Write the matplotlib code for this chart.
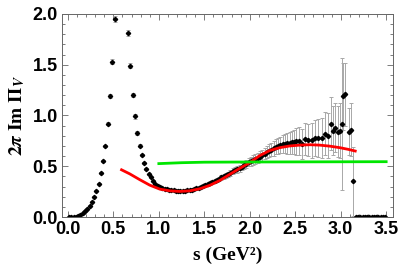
import numpy as np
import matplotlib
matplotlib.use("Agg")
import matplotlib.pyplot as plt

plt.rcParams['mathtext.fontset'] = 'stix'

# data points (s in GeV^2, 2*pi*Im Pi_V)
s_data = [
    0.0125, 0.0375, 0.0625, 0.0875, 0.1125, 0.1375, 0.1625, 0.1875, 0.2125, 0.2375,
    0.2625, 0.2875, 0.3125, 0.3375, 0.3625, 0.3875, 0.4125, 0.4375, 0.4625, 0.4875,
    0.5125, 0.6625, 0.6875, 0.7125, 0.7375, 0.7625, 0.7875, 0.8125, 0.8375, 0.8625,
    0.8875, 0.9125, 0.9375, 0.9625, 0.9875, 1.0125, 1.0375, 1.0625, 1.0875, 1.1125,
    1.1375, 1.1625, 1.1875, 1.2125, 1.2375, 1.2625, 1.2875, 1.3125, 1.3375, 1.3625,
    1.3875, 1.4125, 1.4375, 1.4625, 1.4875, 1.5125, 1.5375, 1.5625, 1.5875, 1.6125,
    1.6375, 1.6625, 1.6875, 1.7125, 1.7375, 1.7625, 1.7875, 1.8125, 1.8375, 1.8625,
    1.8875, 1.9125, 1.9375, 1.9625, 1.9875, 2.0125, 2.0375, 2.0625, 2.0875, 2.1125,
    2.1375, 2.1625, 2.1875, 2.2125, 2.2375, 2.2625, 2.2875, 2.3125, 2.3375, 2.3625,
    2.3875, 2.4125, 2.4375, 2.4625, 2.4875, 2.5125, 2.5375,
    2.57, 2.61, 2.64, 2.68, 2.72, 2.75, 2.79, 2.83, 2.86, 2.89,
    2.92, 2.94, 2.97, 2.99, 3.01, 3.03, 3.05, 3.09, 3.11, 3.14,
    3.165, 3.19, 3.215, 3.24, 3.265, 3.29, 3.315, 3.34, 3.365, 3.39,
    3.415, 3.44, 3.465, 3.49,
]
im_data = [
    0.0, 0.0, 0.0, 0.002, 0.008, 0.02, 0.035, 0.055, 0.08, 0.11,
    0.15, 0.2, 0.26, 0.33, 0.43, 0.55, 0.70, 0.92, 1.19, 1.53,
    1.95, 1.81, 1.49, 1.20, 0.99, 0.83, 0.70, 0.61, 0.53, 0.47,
    0.42, 0.39, 0.355, 0.33, 0.31, 0.295, 0.285, 0.278, 0.272, 0.268,
    0.265, 0.262, 0.26, 0.258, 0.258, 0.258, 0.26, 0.262, 0.266, 0.27,
    0.276, 0.283, 0.29, 0.298, 0.307, 0.316, 0.325, 0.335, 0.345, 0.355,
    0.366, 0.377, 0.39, 0.40, 0.41, 0.42, 0.435, 0.45, 0.46, 0.47,
    0.48, 0.495, 0.51, 0.525, 0.54, 0.55, 0.56, 0.57, 0.585, 0.595,
    0.61, 0.625, 0.64, 0.655, 0.665, 0.675, 0.69, 0.70, 0.71, 0.715,
    0.72, 0.725, 0.73, 0.735, 0.74, 0.745, 0.75,
    0.72, 0.77, 0.76, 0.755, 0.78, 0.78, 0.78, 0.82, 0.80, 0.92,
    0.85, 0.88, 0.84, 0.85, 0.92, 1.19, 1.21, 0.84, 0.86, 0.35,
    0.0, 0.0, 0.0, 0.0, 0.0, 0.0, 0.0, 0.0, 0.0, 0.0,
    0.0, 0.0, 0.0, 0.0,
]
err_data = [
    0.002, 0.002, 0.002, 0.002, 0.003, 0.003, 0.003, 0.004, 0.004, 0.005,
    0.005, 0.006, 0.007, 0.008, 0.01, 0.012, 0.014, 0.018, 0.022, 0.025,
    0.03, 0.03, 0.025, 0.022, 0.02, 0.018, 0.015, 0.012, 0.01, 0.01,
    0.008, 0.008, 0.008, 0.008, 0.008, 0.008, 0.008, 0.008, 0.008, 0.008,
    0.008, 0.008, 0.009, 0.009, 0.009, 0.01, 0.01, 0.01, 0.011, 0.011,
    0.012, 0.012, 0.013, 0.014, 0.015, 0.016, 0.017, 0.018, 0.019, 0.02,
    0.021, 0.022, 0.023, 0.024, 0.025, 0.026, 0.027, 0.028, 0.03, 0.032,
    0.034, 0.036, 0.038, 0.04, 0.042, 0.044, 0.046, 0.048, 0.05, 0.052,
    0.055, 0.058, 0.06, 0.063, 0.066, 0.07, 0.074, 0.078, 0.082, 0.088,
    0.094, 0.10, 0.106, 0.112, 0.12, 0.13, 0.14,
    0.15, 0.16, 0.16, 0.17, 0.18, 0.19, 0.20, 0.21, 0.22, 0.26,
    0.24, 0.24, 0.25, 0.27, 0.65, 0.33, 0.31, 0.23, 0.26, 0.34,
    0.0, 0.0, 0.0, 0.0, 0.0, 0.0, 0.0, 0.0, 0.0, 0.0,
    0.0, 0.0, 0.0, 0.0,
]

# red fit curve
s_red = [0.59, 0.68, 0.79, 0.90, 1.01, 1.12, 1.23, 1.34, 1.45, 1.56, 1.67, 1.78, 1.89,
         2.0, 2.11, 2.22, 2.33, 2.44, 2.55, 2.66, 2.77, 2.88, 2.99, 3.08, 3.16]
im_red = [0.465, 0.425, 0.368, 0.314, 0.275, 0.258, 0.252, 0.258, 0.278, 0.312, 0.36, 0.42, 0.48,
          0.535, 0.605, 0.655, 0.683, 0.70, 0.708, 0.712, 0.708, 0.698, 0.683, 0.667, 0.65]

# green curve
s_green = [1.0, 1.25, 1.5, 2.0, 2.5, 3.0, 3.5]
im_green = [0.526, 0.535, 0.54, 0.542, 0.543, 0.544, 0.545]

fig = plt.figure(figsize=(4.02, 2.73), dpi=100)
ax = fig.add_axes([0.154, 0.205, 0.824, 0.744])

ax.errorbar(s_data, im_data, yerr=err_data, fmt='D', color='black', ms=2.2,
            ecolor='#a8a8a8', elinewidth=0.7, capsize=1.5, capthick=0.7, zorder=2)
ax.plot(s_red, im_red, color='#ff0000', lw=2.0, zorder=3)
ax.plot(s_green, im_green, color='#00e600', lw=2.0, zorder=3)

ax.set_xlim(-0.066, 3.577)
ax.set_ylim(0, 2.0)
ax.set_xticks([0.0, 0.5, 1.0, 1.5, 2.0, 2.5, 3.0, 3.5])
ax.set_yticks([0.0, 0.5, 1.0, 1.5, 2.0])
ax.set_xticks(np.arange(0, 3.55, 0.1), minor=True)
ax.set_yticks(np.arange(0, 2.01, 0.1), minor=True)
ax.xaxis.set_major_formatter(matplotlib.ticker.FormatStrFormatter('%.1f'))
ax.yaxis.set_major_formatter(matplotlib.ticker.FormatStrFormatter('%.1f'))
ax.tick_params(which='both', direction='in', top=True, right=True, color='#666666', width=0.6)
ax.tick_params(which='major', length=4, labelsize=13, pad=3)
ax.tick_params(which='minor', length=2)
for lab in ax.get_xticklabels() + ax.get_yticklabels():
    lab.set_fontweight('bold')
    lab.set_family('Liberation Sans')
for sp in ax.spines.values():
    sp.set_color('#666666')
    sp.set_linewidth(0.7)

ax.set_xlabel('s (GeV\u00b2)', fontsize=14, fontweight='bold', family='Liberation Serif', labelpad=6)
ax.set_ylabel(r'$\mathbf{2}\boldsymbol{\pi}\ \mathbf{Im}\ \mathbf{\Pi}_{\boldsymbol{V}}$',
              fontsize=14, labelpad=4)

fig.savefig('out.png', dpi=100)
